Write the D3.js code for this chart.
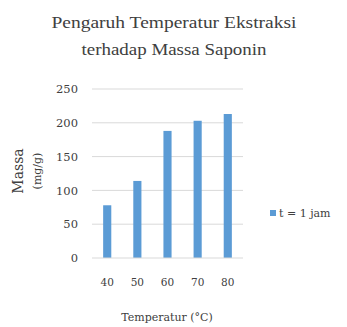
<!DOCTYPE html>
<html>
<head>
<script src="https://d3js.org/d3.v7.min.js"></script>
<style>
  body { margin: 0; background: #fff; }
  text { font-family: "DejaVu Serif", "Liberation Serif", serif; fill: #404040; }
</style>
</head>
<body>
<script>
// chart data
var temps = ["40", "50", "60", "70", "80"];
var massa = [78, 114, 188, 203, 213];
var yTicks = [0, 50, 100, 150, 200, 250];
var seriesName = "t = 1 jam";

var W = 347, H = 327;
var plot = { left: 92, right: 243, top: 89, bottom: 258 };

var svg = d3.select("body").append("svg")
    .attr("width", W)
    .attr("height", H);

var x = d3.scaleBand()
    .domain(temps)
    .range([plot.left, plot.right])
    .paddingInner(0.73)
    .paddingOuter(0.37);

var y = d3.scaleLinear()
    .domain([0, 250])
    .range([plot.bottom, plot.top]);

// gridlines
svg.append("g")
    .selectAll("line")
    .data(yTicks.slice(1))
    .enter().append("line")
    .attr("x1", plot.left).attr("x2", plot.right)
    .attr("y1", function(d) { return y(d); })
    .attr("y2", function(d) { return y(d); })
    .attr("stroke", "#d9d9d9")
    .attr("stroke-width", 1);

// bars
svg.selectAll(".bar")
    .data(massa)
    .enter().append("rect")
    .attr("class", "bar")
    .attr("x", function(d, i) { return x(temps[i]); })
    .attr("width", x.bandwidth())
    .attr("y", function(d) { return y(d); })
    .attr("height", function(d) { return y(0) - y(d); })
    .attr("fill", "#5b9bd5");

// baseline
svg.append("line")
    .attr("x1", plot.left).attr("x2", plot.right)
    .attr("y1", y(0)).attr("y2", y(0))
    .attr("stroke", "#d9d9d9");

// y axis labels
var yAxis = svg.append("g")
    .attr("transform", "translate(" + (plot.left - 14) + ",0)")
    .call(d3.axisLeft(y).tickValues(yTicks).tickSize(0).tickPadding(0));
yAxis.select(".domain").remove();
yAxis.selectAll("text")
    .style("font-family", "DejaVu Serif")
    .style("font-size", "11.5px")
    .attr("fill", "#595959");

// x axis labels
var xAxis = svg.append("g")
    .attr("transform", "translate(0," + plot.bottom + ")")
    .call(d3.axisBottom(x).tickSize(0).tickPadding(21));
xAxis.select(".domain").remove();
xAxis.selectAll("text")
    .style("font-family", "DejaVu Serif")
    .style("font-size", "10.5px")
    .attr("fill", "#595959");

// title
svg.append("text")
    .attr("x", 174).attr("y", 28)
    .attr("text-anchor", "middle")
    .attr("textLength", 245).attr("lengthAdjust", "spacingAndGlyphs")
    .style("font-family", "Liberation Serif")
    .style("font-size", "16px")
    .attr("fill", "#262626")
    .text("Pengaruh Temperatur Ekstraksi");
svg.append("text")
    .attr("x", 174).attr("y", 55)
    .attr("text-anchor", "middle")
    .attr("textLength", 185).attr("lengthAdjust", "spacingAndGlyphs")
    .style("font-family", "Liberation Serif")
    .style("font-size", "16px")
    .attr("fill", "#262626")
    .text("terhadap Massa Saponin");

// y axis title
svg.append("text")
    .attr("transform", "translate(23,171) rotate(-90)")
    .attr("text-anchor", "middle")
    .style("font-size", "14px")
    .text("Massa");
svg.append("text")
    .attr("transform", "translate(41,171) rotate(-90)")
    .attr("text-anchor", "middle")
    .style("font-size", "11px")
    .text("(mg/g)");

// x axis title
svg.append("text")
    .attr("x", 167).attr("y", 321)
    .attr("text-anchor", "middle")
    .style("font-size", "11px")
    .text("Temperatur (°C)");

// legend
svg.append("rect")
    .attr("x", 270).attr("y", 210)
    .attr("width", 6).attr("height", 6)
    .attr("fill", "#5b9bd5");
svg.append("text")
    .attr("x", 279).attr("y", 217)
    .style("font-size", "11px")
    .text(seriesName);
</script>
</body>
</html>
